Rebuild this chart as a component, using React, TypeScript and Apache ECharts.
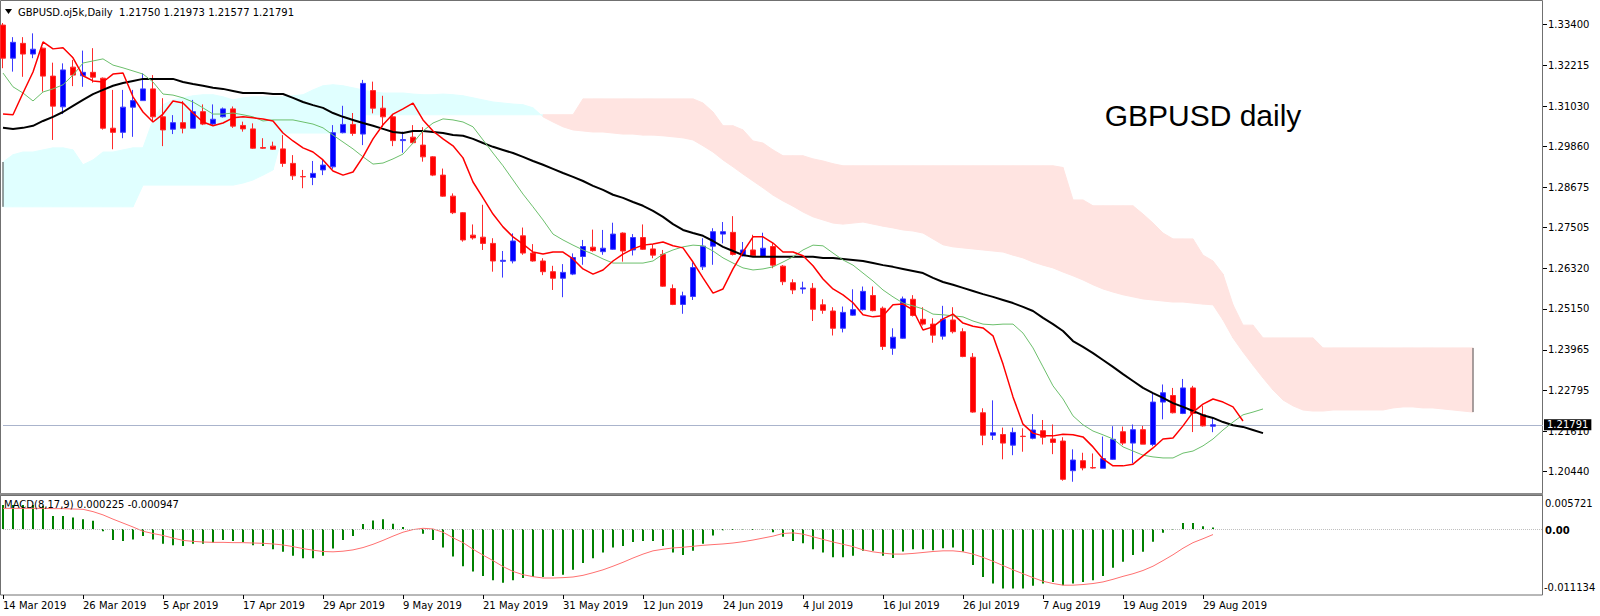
import React, { useEffect, useRef } from "react";
import * as echarts from "echarts";

// ---- tick labels ----
const dateLabels = [
  "14 Mar 2019", "26 Mar 2019", "5 Apr 2019", "17 Apr 2019", "29 Apr 2019", "9 May 2019",
  "21 May 2019", "31 May 2019", "12 Jun 2019", "24 Jun 2019", "4 Jul 2019", "16 Jul 2019",
  "26 Jul 2019", "7 Aug 2019", "19 Aug 2019", "29 Aug 2019",
];
const priceTicks = [
  "1.33400", "1.32215", "1.31030", "1.29860", "1.28675", "1.27505",
  "1.26320", "1.25150", "1.23965", "1.22795", "1.21610", "1.20440",
];

// ---- daily candles (index 0 = 14 Mar 2019) ----
const openP = [
  1.3338, 1.3242, 1.3285, 1.3254, 1.3271, 1.3190, 1.3101, 1.3216, 1.3191, 1.3201,
  1.3184, 1.3039, 1.3027, 1.3100, 1.3119, 1.3153, 1.3072, 1.3036, 1.3055, 1.3039,
  1.3087, 1.3051, 1.3072, 1.3095, 1.3047, 1.3037, 1.2983, 1.2987, 1.2979, 1.2937,
  1.2899, 1.2896, 1.2918, 1.2927, 1.3026, 1.3050, 1.3022, 1.3148, 1.3097, 1.3072,
  1.3003, 1.3013, 1.2990, 1.2956, 1.2903, 1.2842, 1.2794, 1.2729, 1.2723, 1.2705,
  1.2653, 1.2654, 1.2727, 1.2677, 1.2654, 1.2623, 1.2604, 1.2616, 1.2667, 1.2694,
  1.2681, 1.2688, 1.2735, 1.2686, 1.2722, 1.2689, 1.2673, 1.2574, 1.2528, 1.2551,
  1.2637, 1.2697, 1.2732, 1.2737, 1.2669, 1.2686, 1.2667, 1.2696, 1.2639, 1.2591,
  1.2573, 1.2575, 1.2527, 1.2509, 1.2459, 1.2497, 1.2513, 1.2554, 1.2517, 1.2401,
  1.2430, 1.2543, 1.2485, 1.2471, 1.2436, 1.2483, 1.2449, 1.2375, 1.2214, 1.2149,
  1.2151, 1.2120, 1.2146, 1.2140, 1.2162, 1.2138, 1.2132, 1.2046, 1.2075, 1.2055,
  1.2053, 1.2079, 1.2159, 1.2126, 1.2165, 1.2122, 1.2245, 1.2264, 1.2212, 1.2286,
  1.2208, 1.2175,
];
const closeP = [
  1.3242, 1.3288, 1.3254, 1.3268, 1.3190, 1.3103, 1.3208, 1.3193, 1.3201, 1.3187,
  1.3039, 1.3027, 1.3100, 1.3119, 1.3153, 1.3072, 1.3034, 1.3055, 1.3039, 1.3087,
  1.3051, 1.3065, 1.3095, 1.3045, 1.3037, 1.2981, 1.2981, 1.2978, 1.2937, 1.2901,
  1.2898, 1.2908, 1.2932, 1.3026, 1.3050, 1.3024, 1.3169, 1.3097, 1.3072, 1.3003,
  1.3006, 1.2997, 1.2956, 1.2903, 1.2842, 1.2794, 1.2715, 1.2721, 1.2705, 1.2654,
  1.2656, 1.2712, 1.2677, 1.2654, 1.2623, 1.2604, 1.2621, 1.2664, 1.2696, 1.2684,
  1.2691, 1.2732, 1.2683, 1.2722, 1.2688, 1.2671, 1.2581, 1.2528, 1.2553, 1.2635,
  1.2697, 1.2739, 1.2739, 1.2673, 1.2686, 1.2669, 1.2691, 1.2642, 1.2594, 1.2570,
  1.2576, 1.2514, 1.2511, 1.2459, 1.2505, 1.2513, 1.2566, 1.2510, 1.2406, 1.2433,
  1.2544, 1.2496, 1.2471, 1.2439, 1.2485, 1.2449, 1.2377, 1.2216, 1.2149, 1.2156,
  1.2126, 1.2157, 1.2145, 1.2164, 1.2143, 1.2128, 1.2021, 1.2077, 1.2054, 1.2054,
  1.2081, 1.2137, 1.2126, 1.2165, 1.2123, 1.2245, 1.2272, 1.2214, 1.2286, 1.2212,
  1.2176, 1.21791,
];
const lowP = [
  1.3213, 1.3203, 1.3188, 1.3242, 1.3145, 1.3005, 1.3080, 1.3161, 1.3159, 1.3171,
  1.3035, 1.2978, 1.3010, 1.3014, 1.3119, 1.3058, 1.2987, 1.3022, 1.3024, 1.3039,
  1.3048, 1.3048, 1.3070, 1.3040, 1.3029, 1.2979, 1.2979, 1.2976, 1.2927, 1.2889,
  1.2865, 1.2874, 1.2903, 1.2921, 1.3024, 1.3017, 1.2990, 1.3082, 1.3043, 1.2987,
  1.2968, 1.2993, 1.2942, 1.2900, 1.2840, 1.2790, 1.2710, 1.2716, 1.2686, 1.2623,
  1.2606, 1.2647, 1.2672, 1.2652, 1.2613, 1.2570, 1.2549, 1.2613, 1.2643, 1.2681,
  1.2672, 1.2686, 1.2652, 1.2670, 1.2686, 1.2662, 1.2579, 1.2526, 1.2501, 1.2541,
  1.2628, 1.2643, 1.2705, 1.2670, 1.2667, 1.2667, 1.2665, 1.2633, 1.2584, 1.2558,
  1.2559, 1.2480, 1.2501, 1.2438, 1.2447, 1.2495, 1.2510, 1.2508, 1.2396, 1.2382,
  1.2428, 1.2493, 1.2467, 1.2417, 1.2426, 1.2444, 1.2375, 1.2214, 1.2120, 1.2135,
  1.2079, 1.2091, 1.2101, 1.2137, 1.2122, 1.2094, 1.2017, 1.2014, 1.2047, 1.2052,
  1.2053, 1.2077, 1.2120, 1.2067, 1.2123, 1.2117, 1.2195, 1.2212, 1.2210, 1.2158,
  1.2174, 1.21577,
];
const highP = [
  1.3344, 1.3303, 1.3303, 1.3314, 1.3273, 1.3229, 1.3227, 1.3237, 1.3264, 1.3271,
  1.3186, 1.3150, 1.3150, 1.3150, 1.3198, 1.3193, 1.3126, 1.3077, 1.3118, 1.3121,
  1.3108, 1.3108, 1.3099, 1.3102, 1.3058, 1.3053, 1.3010, 1.3000, 1.3019, 1.2961,
  1.2918, 1.2944, 1.2947, 1.3048, 1.3104, 1.3083, 1.3179, 1.3174, 1.3133, 1.3077,
  1.3029, 1.3048, 1.3042, 1.2958, 1.2922, 1.2850, 1.2796, 1.2760, 1.2817, 1.2720,
  1.2683, 1.2734, 1.2751, 1.2703, 1.2662, 1.2640, 1.2645, 1.2676, 1.2715, 1.2745,
  1.2744, 1.2765, 1.2737, 1.2732, 1.2760, 1.2703, 1.2686, 1.2586, 1.2565, 1.2650,
  1.2720, 1.2749, 1.2767, 1.2784, 1.2709, 1.2730, 1.2736, 1.2706, 1.2642, 1.2601,
  1.2594, 1.2590, 1.2543, 1.2520, 1.2522, 1.2572, 1.2580, 1.2580, 1.2522, 1.2459,
  1.2551, 1.2555, 1.2520, 1.2488, 1.2524, 1.2520, 1.2459, 1.2387, 1.2227, 1.2250,
  1.2171, 1.2171, 1.2169, 1.2210, 1.2193, 1.2180, 1.2143, 1.2108, 1.2098, 1.2096,
  1.2145, 1.2175, 1.2174, 1.2180, 1.2176, 1.2272, 1.2296, 1.2286, 1.2312, 1.2292,
  1.2234, 1.21973,
];

// ---- indicator lines (shifted forward past the last candle) ----
const redLine = [
  1.3080, 1.3078, 1.3141, 1.3202, 1.3289, 1.3269, 1.3272, 1.3243, 1.3191, 1.3176,
  1.3173, 1.3196, 1.3199, 1.3130, 1.3086, 1.3057, 1.3080, 1.3118, 1.3112, 1.3083,
  1.3057, 1.3046, 1.3054, 1.3069, 1.3072, 1.3069, 1.3066, 1.3060, 1.3025, 1.3002,
  1.2982, 1.2970, 1.2947, 1.2915, 1.2903, 1.2912, 1.2956, 1.3008, 1.3049, 1.3080,
  1.3095, 1.3112, 1.3063, 1.3031, 1.3008, 1.2988, 1.2953, 1.2883, 1.2837, 1.2790,
  1.2753, 1.2724, 1.2703, 1.2680, 1.2674, 1.2680, 1.2680, 1.2660, 1.2631, 1.2616,
  1.2628, 1.2654, 1.2674, 1.2689, 1.2700, 1.2703, 1.2709, 1.2698, 1.2692, 1.2651,
  1.2605, 1.2561, 1.2573, 1.2631, 1.2680, 1.2724, 1.2724, 1.2706, 1.2680, 1.2680,
  1.2669, 1.2640, 1.2602, 1.2573, 1.2556, 1.2533, 1.2498, 1.2492, 1.2495, 1.2527,
  1.2529, 1.2512, 1.2454, 1.2463, 1.2486, 1.2500, 1.2474, 1.2465, 1.2460, 1.2437,
  1.2355, 1.2260, 1.2181, 1.2155, 1.2147, 1.2147, 1.2152, 1.2150, 1.2144, 1.2115,
  1.2080, 1.2060, 1.2060, 1.2065, 1.2089, 1.2112, 1.2138, 1.2141, 1.2176, 1.2216,
  1.2239, 1.2254, 1.2245, 1.2231, 1.2190,
];
const greenLine = [
  1.3199, 1.3159, 1.3141, 1.3118, 1.3144, 1.3153, 1.3165, 1.3193, 1.3228, 1.3234,
  1.3240, 1.3222, 1.3214, 1.3205, 1.3196, 1.3173, 1.3138, 1.3135, 1.3127, 1.3115,
  1.3098, 1.3080, 1.3080, 1.3083, 1.3078, 1.3072, 1.3060, 1.3063, 1.3063, 1.3063,
  1.3057, 1.3051, 1.3040, 1.3019, 1.2999, 1.2979, 1.2956, 1.2935, 1.2938, 1.2950,
  1.2964, 1.2996, 1.3031, 1.3054, 1.3066, 1.3063, 1.3057, 1.3043, 1.3005, 1.2967,
  1.2930, 1.2889, 1.2848, 1.2811, 1.2773, 1.2732, 1.2715, 1.2700, 1.2686, 1.2674,
  1.2660, 1.2648, 1.2648, 1.2648, 1.2648, 1.2654, 1.2674, 1.2686, 1.2695, 1.2700,
  1.2698, 1.2683, 1.2663, 1.2648, 1.2634, 1.2628, 1.2631, 1.2637, 1.2651, 1.2666,
  1.2686, 1.2700, 1.2698, 1.2677, 1.2657, 1.2642, 1.2619, 1.2596, 1.2570, 1.2550,
  1.2532, 1.2524, 1.2515, 1.2500, 1.2498, 1.2495, 1.2492, 1.2480, 1.2471, 1.2469,
  1.2471, 1.2471, 1.2445, 1.2402, 1.2347, 1.2292, 1.2254, 1.2205, 1.2179, 1.2161,
  1.2150, 1.2138, 1.2115, 1.2103, 1.2091, 1.2086, 1.2083, 1.2083, 1.2097, 1.2103,
  1.2118, 1.2138, 1.2164, 1.2187, 1.2208, 1.2216, 1.2225,
];
const blackLine = [
  1.3040, 1.3037, 1.3040, 1.3046, 1.3060, 1.3072, 1.3086, 1.3104, 1.3121, 1.3138,
  1.3150, 1.3162, 1.3170, 1.3176, 1.3182, 1.3182, 1.3182, 1.3182, 1.3173, 1.3167,
  1.3162, 1.3156, 1.3153, 1.3147, 1.3141, 1.3141, 1.3141, 1.3138, 1.3138, 1.3127,
  1.3115, 1.3106, 1.3098, 1.3083, 1.3072, 1.3063, 1.3054, 1.3046, 1.3037, 1.3028,
  1.3025, 1.3031, 1.3031, 1.3028, 1.3025, 1.3019, 1.3017, 1.3008, 1.2996, 1.2985,
  1.2976, 1.2967, 1.2956, 1.2944, 1.2933, 1.2921, 1.2909, 1.2898, 1.2886, 1.2872,
  1.2860, 1.2846, 1.2837, 1.2825, 1.2814, 1.2799, 1.2782, 1.2761, 1.2744, 1.2735,
  1.2727, 1.2712, 1.2695, 1.2683, 1.2671, 1.2666, 1.2666, 1.2666, 1.2666, 1.2666,
  1.2666, 1.2666, 1.2663, 1.2663, 1.2660, 1.2657, 1.2654, 1.2648, 1.2642, 1.2637,
  1.2631, 1.2625, 1.2619, 1.2605, 1.2593, 1.2585, 1.2576, 1.2567, 1.2558, 1.2550,
  1.2541, 1.2532, 1.2521, 1.2509, 1.2489, 1.2471, 1.2451, 1.2422, 1.2405, 1.2387,
  1.2367, 1.2347, 1.2326, 1.2306, 1.2286, 1.2271, 1.2257, 1.2242, 1.2231, 1.2219,
  1.2207, 1.2199, 1.2187, 1.2178, 1.2173, 1.2164, 1.2155,
];

// ---- Ichimoku cloud spans (index 0..147) ----
const spanA = [
  1.2941, 1.2962, 1.2970, 1.2970, 1.2976, 1.2982, 1.2982, 1.2976, 1.2933, 1.2947,
  1.2970, 1.2970, 1.2976, 1.2982, 1.2982, 1.3063, 1.3107, 1.3121, 1.3127, 1.3133,
  1.3136, 1.3136, 1.3130, 1.3121, 1.3127, 1.3130, 1.3130, 1.3130, 1.3130, 1.3133,
  1.3136, 1.3150, 1.3162, 1.3165, 1.3162, 1.3156, 1.3150, 1.3144, 1.3141, 1.3141,
  1.3141, 1.3138, 1.3136, 1.3136, 1.3138, 1.3136, 1.3133, 1.3127, 1.3121, 1.3115,
  1.3112, 1.3109, 1.3107, 1.3098, 1.3072, 1.3057, 1.3043, 1.3034, 1.3031, 1.3028,
  1.3028, 1.3025, 1.3022, 1.3022, 1.3019, 1.3019, 1.3017, 1.3014, 1.3011, 1.3005,
  1.2988, 1.2970, 1.2947, 1.2927, 1.2906, 1.2886, 1.2866, 1.2845, 1.2828, 1.2813,
  1.2796, 1.2782, 1.2773, 1.2764, 1.2761, 1.2764, 1.2767, 1.2761, 1.2755, 1.2750,
  1.2744, 1.2741, 1.2735, 1.2718, 1.2701, 1.2695, 1.2692, 1.2689, 1.2686, 1.2683,
  1.2680, 1.2671, 1.2663, 1.2651, 1.2642, 1.2634, 1.2622, 1.2611, 1.2599, 1.2585,
  1.2573, 1.2564, 1.2556, 1.2550, 1.2544, 1.2541, 1.2538, 1.2535, 1.2535, 1.2532,
  1.2529, 1.2527, 1.2483, 1.2431, 1.2390, 1.2352, 1.2315, 1.2280, 1.2251, 1.2234,
  1.2222, 1.2219, 1.2219, 1.2222, 1.2222, 1.2222, 1.2222, 1.2222, 1.2222, 1.2228,
  1.2231, 1.2231, 1.2228, 1.2228, 1.2225, 1.2222, 1.2219, 1.2216,
];
const spanB = [
  1.2811, 1.2811, 1.2811, 1.2811, 1.2811, 1.2811, 1.2811, 1.2811, 1.2811, 1.2811,
  1.2811, 1.2811, 1.2811, 1.2811, 1.2874, 1.2874, 1.2874, 1.2874, 1.2874, 1.2874,
  1.2874, 1.2874, 1.2874, 1.2874, 1.2880, 1.2889, 1.2903, 1.2918, 1.3025, 1.3025,
  1.3025, 1.3025, 1.3025, 1.3025, 1.3025, 1.3025, 1.3078, 1.3078, 1.3078, 1.3078,
  1.3078, 1.3078, 1.3078, 1.3078, 1.3078, 1.3078, 1.3078, 1.3078, 1.3078, 1.3078,
  1.3078, 1.3078, 1.3078, 1.3078, 1.3078, 1.3078, 1.3078, 1.3078, 1.3124, 1.3124,
  1.3124, 1.3124, 1.3124, 1.3124, 1.3124, 1.3124, 1.3124, 1.3124, 1.3124, 1.3124,
  1.3112, 1.3086, 1.3046, 1.3046, 1.3034, 1.3002, 1.2996, 1.2976, 1.2959, 1.2959,
  1.2959, 1.2950, 1.2944, 1.2936, 1.2930, 1.2930, 1.2930, 1.2930, 1.2930, 1.2930,
  1.2930, 1.2930, 1.2930, 1.2930, 1.2930, 1.2930, 1.2930, 1.2930, 1.2930, 1.2930,
  1.2930, 1.2930, 1.2930, 1.2930, 1.2930, 1.2930, 1.2925, 1.2831, 1.2831, 1.2814,
  1.2814, 1.2814, 1.2814, 1.2814, 1.2790, 1.2764, 1.2735, 1.2718, 1.2718, 1.2718,
  1.2671, 1.2654, 1.2616, 1.2527, 1.2468, 1.2468, 1.2431, 1.2431, 1.2431, 1.2431,
  1.2431, 1.2431, 1.2402, 1.2402, 1.2402, 1.2402, 1.2402, 1.2402, 1.2402, 1.2402,
  1.2402, 1.2402, 1.2402, 1.2402, 1.2402, 1.2402, 1.2402, 1.2402,
];

// ---- MACD(8,17,9) ----
const macdHist = [
  0.00402, 0.00402, 0.00402, 0.00402, 0.00391, 0.00220, 0.00220, 0.00193, 0.00165, 0.00138,
  -0.00039, -0.00187, -0.00204, -0.00176, -0.00121, -0.00176, -0.00248, -0.00276, -0.00287, -0.00248,
  -0.00248, -0.00231, -0.00187, -0.00204, -0.00220, -0.00276, -0.00287, -0.00342, -0.00386, -0.00452,
  -0.00496, -0.00496, -0.00452, -0.00331, -0.00187, -0.00121, 0.00083, 0.00143, 0.00165, 0.00088,
  0.00033, -0.00011, -0.00083, -0.00187, -0.00314, -0.00463, -0.00628, -0.00716, -0.00793, -0.00865,
  -0.00909, -0.00865, -0.00827, -0.00810, -0.00810, -0.00793, -0.00771, -0.00689, -0.00573, -0.00496,
  -0.00397, -0.00314, -0.00287, -0.00220, -0.00204, -0.00204, -0.00287, -0.00397, -0.00441, -0.00369,
  -0.00248, -0.00110, -0.00022, -0.00017, -0.00011, -0.00017, -0.00011, -0.00055, -0.00132, -0.00204,
  -0.00242, -0.00342, -0.00397, -0.00479, -0.00479, -0.00452, -0.00369, -0.00369, -0.00452, -0.00490,
  -0.00380, -0.00342, -0.00342, -0.00358, -0.00325, -0.00314, -0.00380, -0.00606, -0.00810, -0.00920,
  -0.01003, -0.01003, -0.01003, -0.00959, -0.00920, -0.00893, -0.00948, -0.00920, -0.00893, -0.00865,
  -0.00793, -0.00656, -0.00551, -0.00441, -0.00386, -0.00215, -0.00066, -0.00011, 0.00099, 0.00099,
  0.00044, 0.000225,
];
const macdSignal = [
  0.00347, 0.00347, 0.00347, 0.00347, 0.00347, 0.00342, 0.00342, 0.00336, 0.00331, 0.00292,
  0.00237, 0.00165, 0.00099, 0.00033, -0.00039, -0.00077, -0.00110, -0.00154, -0.00193, -0.00209,
  -0.00220, -0.00226, -0.00226, -0.00231, -0.00231, -0.00237, -0.00242, -0.00253, -0.00270, -0.00298,
  -0.00331, -0.00358, -0.00380, -0.00386, -0.00375, -0.00353, -0.00314, -0.00259, -0.00193, -0.00121,
  -0.00055, -0.00011, 0.00011, 0.00000, -0.00055, -0.00149, -0.00231, -0.00342, -0.00441, -0.00534,
  -0.00634, -0.00716, -0.00771, -0.00804, -0.00827, -0.00827, -0.00821, -0.00810, -0.00782, -0.00738,
  -0.00689, -0.00628, -0.00562, -0.00490, -0.00424, -0.00369, -0.00342, -0.00320, -0.00309, -0.00292,
  -0.00276, -0.00264, -0.00253, -0.00237, -0.00215, -0.00187, -0.00154, -0.00121, -0.00077, -0.00066,
  -0.00088, -0.00132, -0.00176, -0.00220, -0.00259, -0.00298, -0.00353, -0.00386, -0.00408, -0.00424,
  -0.00424, -0.00413, -0.00397, -0.00380, -0.00369, -0.00369, -0.00386, -0.00424, -0.00479, -0.00545,
  -0.00617, -0.00689, -0.00755, -0.00821, -0.00882, -0.00920, -0.00948, -0.00948, -0.00937, -0.00920,
  -0.00893, -0.00849, -0.00799, -0.00755, -0.00700, -0.00628, -0.00534, -0.00435, -0.00325, -0.00231,
  -0.00165, -0.000947,
];

const lastPrice = 1.21791;
const macdMax = 0.005721;
const macdMin = -0.011134;
const SLOTS = 155;

export default function App() {
  const ref = useRef<HTMLDivElement>(null);

  useEffect(() => {
    document.body.style.margin = "0";
    const chart = echarts.init(ref.current as HTMLDivElement, null, { renderer: "svg" });
    const font = "DejaVu Sans";
    const cats = Array.from({ length: SLOTS }, (_, i) => String(i));
    const candles = openP.map((o, i) => [o, closeP[i], lowP[i], highP[i]]);
    const cloud = spanA.slice(0, -1).map((a, i) => [i, a, spanB[i], spanA[i + 1], spanB[i + 1]]);
    const lastCloud = cloud.length - 1;
    const tickVals = priceTicks.map((t) => parseFloat(t));
    const lastBar = openP.length - 1;
    const txt = (x: number, y: number, text: string, f: string, align = "left") => ({
      type: "text",
      x,
      y,
      silent: true,
      z: 100,
      style: { text, font: f, fill: "#000000", textAlign: align, textVerticalAlign: "middle" },
    });

    chart.setOption({
      animation: false,
      backgroundColor: "#ffffff",
      grid: [
        { left: 3, top: 1, width: 1540, height: 492 },
        { left: 3, top: 495, width: 1540, height: 100 },
      ],
      xAxis: [
        { type: "category", gridIndex: 0, data: cats, boundaryGap: false, show: false },
        {
          type: "category",
          gridIndex: 1,
          data: cats,
          boundaryGap: false,
          axisLine: { show: false, onZero: false },
          axisTick: {
            show: true,
            length: 4,
            interval: (idx: number) => idx % 8 === 0 && idx <= lastBar,
            lineStyle: { color: "#000000", width: 1 },
          },
          axisLabel: {
            interval: (idx: number) => idx % 8 === 0 && idx <= lastBar,
            formatter: (_v: string, idx: number) => dateLabels[idx / 8] || "",
            align: "left",
            margin: 5,
            fontFamily: font,
            fontSize: 10,
            color: "#000000",
          },
          splitLine: { show: false },
        },
      ],
      yAxis: [
        {
          type: "value",
          gridIndex: 0,
          position: "right",
          min: 1.198135,
          max: 1.34078,
          splitLine: { show: false },
          axisLine: { show: false },
          axisTick: { show: true, customValues: tickVals, length: 4, lineStyle: { color: "#000000" } },
          axisLabel: {
            customValues: tickVals,
            formatter: (v: number) => v.toFixed(5),
            margin: 5,
            fontFamily: font,
            fontSize: 10,
            color: "#000000",
          },
        },
        {
          type: "value",
          gridIndex: 1,
          position: "right",
          min: macdMin,
          max: macdMax,
          splitLine: { show: false },
          axisLine: { show: false },
          axisTick: { show: false },
          axisLabel: { show: false },
        },
      ],
      series: [
        {
          type: "custom",
          name: "cloud",
          xAxisIndex: 0,
          yAxisIndex: 0,
          silent: true,
          z: 1,
          encode: { x: 0, y: [1, 2, 3, 4] },
          data: cloud,
          renderItem: (_params: any, api: any) => {
            const i = api.value(0);
            const a0 = api.value(1);
            const b0 = api.value(2);
            const a1 = api.value(3);
            const b1 = api.value(4);
            const pA0 = api.coord([i, a0]);
            const pA1 = api.coord([i + 1, a1]);
            const pB1 = api.coord([i + 1, b1]);
            const pB0 = api.coord([i, b0]);
            const fill = a0 >= b0 ? "#e0ffff" : "#ffe4e1";
            const children: any[] = [
              {
                type: "polygon",
                shape: { points: [pA0, pA1, pB1, pB0] },
                style: { fill, stroke: fill, lineWidth: 1 },
              },
            ];
            if (i === 0) {
              children.push({
                type: "line",
                shape: { x1: pA0[0], y1: pA0[1], x2: pB0[0], y2: pB0[1] },
                style: { stroke: "#404040", lineWidth: 1 },
              });
            }
            if (i === lastCloud) {
              children.push({
                type: "line",
                shape: { x1: pA1[0], y1: pA1[1], x2: pB1[0], y2: pB1[1] },
                style: { stroke: "#505050", lineWidth: 1 },
              });
            }
            return { type: "group", children };
          },
        },
        {
          type: "candlestick",
          xAxisIndex: 0,
          yAxisIndex: 0,
          data: candles,
          barWidth: 6,
          clip: false,
          silent: true,
          z: 3,
          itemStyle: {
            color: "#0000ff",
            color0: "#ff0000",
            borderColor: "#3c3cff",
            borderColor0: "#ff2a2a",
            borderWidth: 1,
          },
        },
        {
          type: "line",
          xAxisIndex: 0,
          yAxisIndex: 0,
          data: blackLine,
          symbol: "none",
          silent: true,
          z: 4,
          lineStyle: { color: "#000000", width: 2 },
          markLine: {
            silent: true,
            symbol: "none",
            animation: false,
            precision: 5,
            z: 2,
            lineStyle: { color: "#aab4cc", width: 1, type: "solid" },
            label: {
              show: true,
              position: "end",
              formatter: lastPrice.toFixed(5),
              backgroundColor: "#000000",
              color: "#ffffff",
              fontFamily: font,
              fontSize: 10,
              padding: [1, 3, 0, 3],
              distance: 1,
            },
            data: [{ yAxis: lastPrice }],
          },
        },
        {
          type: "line",
          xAxisIndex: 0,
          yAxisIndex: 0,
          data: greenLine,
          symbol: "none",
          silent: true,
          z: 4,
          lineStyle: { color: "#6cbf6c", width: 1 },
        },
        {
          type: "line",
          xAxisIndex: 0,
          yAxisIndex: 0,
          data: redLine,
          symbol: "none",
          silent: true,
          z: 5,
          lineStyle: { color: "#ff0000", width: 1.5 },
        },
        {
          type: "bar",
          xAxisIndex: 1,
          yAxisIndex: 1,
          data: macdHist,
          barWidth: 2,
          clip: false,
          silent: true,
          itemStyle: { color: "#008000" },
          markLine: {
            silent: true,
            symbol: "none",
            animation: false,
            precision: 6,
            label: { show: false },
            lineStyle: { color: "#c0c0c0", type: "dotted", width: 1 },
            data: [{ yAxis: 0 }],
          },
        },
        {
          type: "line",
          xAxisIndex: 1,
          yAxisIndex: 1,
          data: macdSignal,
          symbol: "none",
          silent: true,
          lineStyle: { color: "#ff7070", width: 1 },
        },
      ],
      graphic: [
        {
          type: "rect",
          shape: { x: 0.5, y: 0.5, width: 1542, height: 493 },
          style: { fill: "none", stroke: "#707070", lineWidth: 1 },
          silent: true,
        },
        {
          type: "rect",
          shape: { x: 0, y: 493, width: 1543, height: 3 },
          style: { fill: "#8c8c8c" },
          silent: true,
        },
        {
          type: "rect",
          shape: { x: 0.5, y: 495.5, width: 1542, height: 99.5 },
          style: { fill: "none", stroke: "#707070", lineWidth: 1 },
          silent: true,
        },
        {
          type: "polygon",
          shape: { points: [[5, 9], [12, 9], [8.5, 14]] },
          style: { fill: "#000000" },
          silent: true,
        },
        txt(18, 12, "GBPUSD.oj5k,Daily  1.21750 1.21973 1.21577 1.21791", `10px "${font}"`),
        txt(1203, 115, "GBPUSD daily", '30px "Liberation Sans"', "center"),
        txt(4, 504, "MACD(8,17,9) 0.000225 -0.000947", `10px "${font}"`),
        txt(1545, 503, macdMax.toFixed(6), `10px "${font}"`),
        txt(1545, 530, "0.00", `bold 10px "${font}"`),
        txt(1544, 587, macdMin.toFixed(6), `10px "${font}"`),
      ],
    });

    return () => chart.dispose();
  }, []);

  return <div ref={ref} style={{ width: 1600, height: 616 }} />;
}
